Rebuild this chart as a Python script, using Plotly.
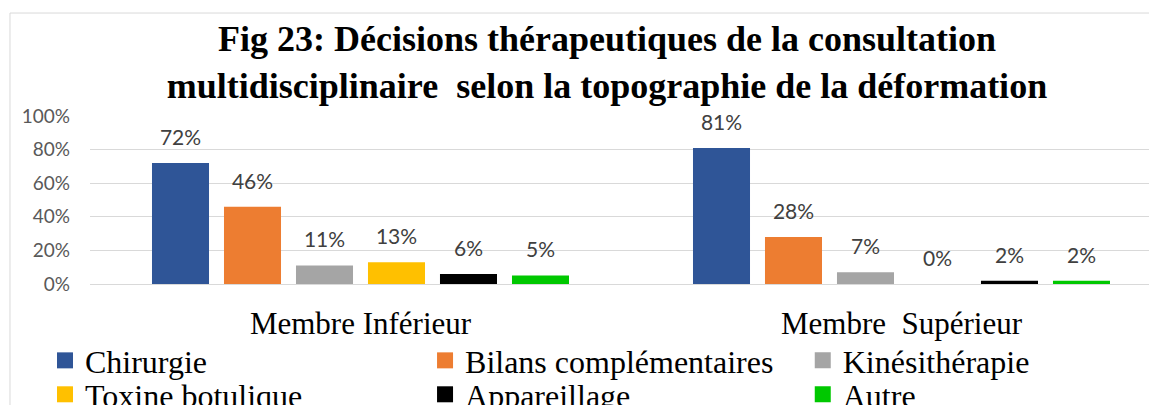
import plotly.graph_objs as go

# Categories and series (percent of patients)
categories = ['Membre Inférieur', 'Membre  Supérieur']
series_names = ['Chirurgie', 'Bilans complémentaires', 'Kinésithérapie',
                'Toxine botulique', 'Appareillage', 'Autre']
chirurgie = [72, 81]
bilans = [46, 28]
kine = [11, 7]
toxine = [13, 0]
appareillage = [6, 2]
autre = [5, 2]

colors = ['#2F5597', '#ED7D31', '#A5A5A5', '#FFC000', '#000000', '#00C800']
legend_ids = ['legend', 'legend2', 'legend3', 'legend4', 'legend5', 'legend6']

serif = 'Liberation Serif'
sans = 'Lato'

fig = go.Figure()

values = [chirurgie, bilans, kine, toxine, appareillage, autre]
for name, vals, col in zip(series_names, values, colors):
    fig.add_trace(go.Bar(
        x=categories, y=vals, name=name,
        marker=dict(color=col, line=dict(width=0)),
        offsetgroup=name, showlegend=False,
    ))

# data labels, grouped the same way as the bars
for name, vals in zip(series_names, values):
    fig.add_trace(go.Scatter(
        x=categories, y=vals, mode='markers+text',
        text=[f'{v}%' for v in vals], textposition='top center',
        textfont=dict(family=sans, size=21, color='#404040'),
        marker=dict(size=19, opacity=0),
        offsetgroup=name, orientation='v',
        showlegend=False, hoverinfo='skip', cliponaxis=False,
    ))

# legend entries (bigger squares than the bar legend symbol), on a hidden axis
for name, col, leg in zip(series_names, colors, legend_ids):
    fig.add_trace(go.Scatter(
        x=[None], y=[None], mode='markers', name=name, legend=leg,
        marker=dict(symbol='square', size=16, color=col),
        xaxis='x2', yaxis='y2',
    ))

legend_font = dict(family=serif, size=32, color='black')
col_x = [-0.0422, 0.314, 0.668]
row_y = [-0.292, -0.494]
legends = {}
for i, leg in enumerate(legend_ids):
    legends[leg] = dict(x=col_x[i % 3], y=row_y[i // 3], xanchor='left',
                        yanchor='top', orientation='v',
                        bgcolor='rgba(0,0,0,0)', font=legend_font)

# page body has an 8px margin, so the figure is a bit smaller than the window
fig.update_layout(
    width=1149, height=397,
    margin=dict(l=82, r=0, t=108, b=121, autoexpand=False),
    paper_bgcolor='white', plot_bgcolor='white',
    barmode='group', bargap=0.2015, bargroupgap=0.208,
    scattermode='group', scattergap=0.2015,
    title=dict(
        text='Fig 23: Décisions thérapeutiques de la consultation<br>'
             'multidisciplinaire\u00a0 selon la topographie de la déformation',
        font=dict(family=serif, size=36, color='black', weight='bold'),
        x=0.5213, xanchor='center', xref='container',
        y=1 - 43 / 397, yanchor='top', yref='container',
    ),
    xaxis=dict(type='category', range=[-0.5, 1.4723], showgrid=False,
               tickvals=categories,
               ticktext=[c.replace('  ', '\u00a0 ') for c in categories],
               tickfont=dict(family=serif, size=31, color='black'),
               ticklabelstandoff=18,
               showline=False, zeroline=False),
    xaxis2=dict(visible=False, overlaying='x'),
    yaxis2=dict(visible=False, overlaying='y'),
    yaxis=dict(range=[0, 100], dtick=20, ticksuffix='%',
               gridcolor='#D9D9D9', gridwidth=1, zeroline=True,
               zerolinecolor='#D9D9D9', zerolinewidth=1, showline=False,
               tickfont=dict(family=sans, size=19, color='#595959'),
               ticklabelstandoff=19),
    showlegend=True,
    **legends,
)

# light chart border
fig.add_shape(type='rect', xref='paper', yref='paper',
              x0=-0.075, x1=1.2, y0=-2, y1=1.613,
              line=dict(color='#D9D9D9', width=1), layer='below')

fig.write_html("out.html")
